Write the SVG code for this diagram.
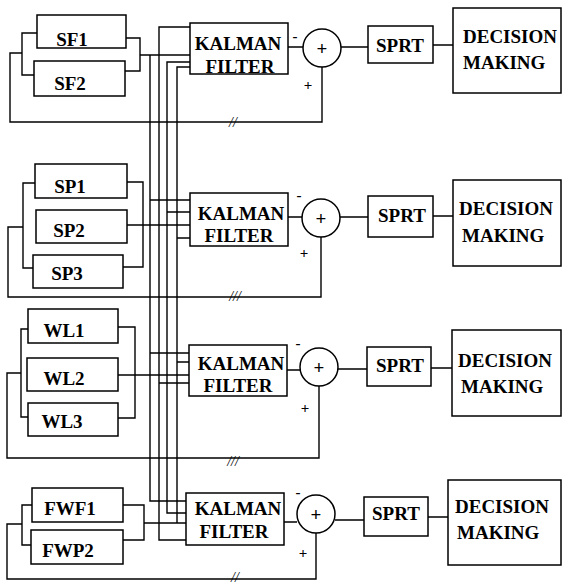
<svg xmlns="http://www.w3.org/2000/svg" width="564" height="585" viewBox="0 0 564 585">
<style>
.b{fill:none;stroke:#000;stroke-width:1.5}
.w{fill:none;stroke:#000;stroke-width:1.4}
.t{font-size:19px;font-weight:bold;fill:#000}
.c{text-anchor:middle}
.s{font-size:15px;font-weight:bold;text-anchor:middle;fill:#000}
.sl{font-size:14px;font-style:italic;text-anchor:middle;fill:#000}
</style>
<rect width="564" height="585" fill="#fff"/>
<g font-family="Liberation Serif, Times New Roman, DejaVu Serif, serif">
<g id="connectors">
  <path class="w" d="M37,33 H22 V75 H34"/>
  <path class="w" d="M126,38 H140 V71 H125"/>
  <path class="w" d="M22,53 H10 V122 H322 V67"/>
  <path class="w" d="M35,183 H23 V268 H33"/>
  <path class="w" d="M127,182 H143 V267 H123"/>
  <path class="w" d="M23,227 H8 V297 H321 V237"/>
  <path class="w" d="M28,329 H21 V417 H28"/>
  <path class="w" d="M118,327 H135 V418 H118"/>
  <path class="w" d="M21,373 H7 V458 H319 V386"/>
  <path class="w" d="M32,505 H22 V545 H31"/>
  <path class="w" d="M123,505 H144 V540 H123"/>
  <path class="w" d="M22,524 H7 V579 H316 V533"/>
  <path class="w" d="M140,55 H190"/>
  <path class="w" d="M127,225 H190"/>
  <path class="w" d="M118,375 H189"/>
  <path class="w" d="M144,523 H186"/>
  <path class="w" d="M150,55 V501 H186"/>
  <path class="w" d="M190,27 H159 V540 H186"/>
  <path class="w" d="M190,62 H167 V513 H186"/>
  <path class="w" d="M190,67 H177 V523"/>
  <path class="w" d="M150,200 H190 M167,212 H190 M177,238 H190"/>
  <path class="w" d="M150,353 H189 M177,362 H189 M159,383 H189"/>
  <path class="w" d="M288,47 H303 M341,47 H368 M433,45 H453"/>
  <path class="w" d="M288,217 H302 M340,217 H368 M433,216 H453"/>
  <path class="w" d="M287,370 H300 M338,369 H367 M431,368 H452"/>
  <path class="w" d="M284,522 H297 M335,520 H364 M428,517 H448"/>
  <text class="s" x="295" y="41">-</text>
  <text class="s" x="308" y="90">+</text>
  <text class="s" x="299" y="200">-</text>
  <text class="s" x="304" y="258">+</text>
  <text class="s" x="298" y="348">-</text>
  <text class="s" x="305" y="413">+</text>
  <text class="s" x="298" y="497">-</text>
  <text class="s" x="303" y="558">+</text>
  <text class="sl" x="233" y="127">//</text>
  <text class="sl" x="235" y="301">///</text>
  <text class="sl" x="233" y="466">///</text>
  <text class="sl" x="235" y="582">//</text>
</g>

<g id="SF1"><rect class="b" x="37" y="15" width="89" height="33"/><text class="t c" x="72" y="46">SF1</text></g>
<g id="SF2"><rect class="b" x="34" y="61" width="91" height="35"/><text class="t c" x="70" y="90">SF2</text></g>
<g id="SP1"><rect class="b" x="35" y="164" width="92" height="34"/><text class="t c" x="70" y="193">SP1</text></g>
<g id="SP2"><rect class="b" x="36" y="210" width="91" height="33"/><text class="t c" x="69" y="237">SP2</text></g>
<g id="SP3"><rect class="b" x="33" y="255" width="90" height="33"/><text class="t c" x="67" y="280">SP3</text></g>
<g id="WL1"><rect class="b" x="28" y="309" width="90" height="34"/><text class="t c" x="64" y="337">WL1</text></g>
<g id="WL2"><rect class="b" x="27" y="358" width="91" height="33"/><text class="t c" x="64" y="385">WL2</text></g>
<g id="WL3"><rect class="b" x="28" y="403" width="90" height="33"/><text class="t c" x="62" y="428">WL3</text></g>
<g id="FWF1"><rect class="b" x="32" y="488" width="91" height="34"/><text class="t c" x="70" y="515">FWF1</text></g>
<g id="FWP2"><rect class="b" x="31" y="530" width="92" height="34"/><text class="t c" x="68" y="557">FWP2</text></g>

<g id="KF1"><rect class="b" x="190" y="23" width="98" height="51"/><text class="t c" x="238" y="50">KALMAN</text><text class="t c" x="240" y="73">FILTER</text></g>
<g id="KF2"><rect class="b" x="190" y="193" width="98" height="53"/><text class="t c" x="241" y="220">KALMAN</text><text class="t c" x="239" y="242">FILTER</text></g>
<g id="KF3"><rect class="b" x="189" y="345" width="98" height="51"/><text class="t c" x="241" y="370">KALMAN</text><text class="t c" x="238" y="392">FILTER</text></g>
<g id="KF4"><rect class="b" x="186" y="493" width="98" height="52"/><text class="t c" x="238" y="515">KALMAN</text><text class="t c" x="234" y="538">FILTER</text></g>

<g id="SUM1"><circle class="b" cx="322" cy="48" r="19"/><text class="t c" x="322" y="55">+</text></g>
<g id="SUM2"><circle class="b" cx="321" cy="218" r="19"/><text class="t c" x="321" y="225">+</text></g>
<g id="SUM3"><circle class="b" cx="319" cy="367" r="19"/><text class="t c" x="319" y="374">+</text></g>
<g id="SUM4"><circle class="b" cx="316" cy="514" r="19"/><text class="t c" x="316" y="521">+</text></g>

<g id="SPRT1"><rect class="b" x="368" y="26" width="65" height="37"/><text class="t c" x="400" y="52">SPRT</text></g>
<g id="SPRT2"><rect class="b" x="368" y="196" width="65" height="41"/><text class="t c" x="402" y="222">SPRT</text></g>
<g id="SPRT3"><rect class="b" x="367" y="347" width="64" height="39"/><text class="t c" x="400" y="372">SPRT</text></g>
<g id="SPRT4"><rect class="b" x="364" y="497" width="64" height="39"/><text class="t c" x="396" y="520">SPRT</text></g>

<g id="DM1"><rect class="b" x="453" y="8" width="108" height="85"/><text class="t" x="463" y="43">DECISION</text><text class="t" x="463" y="69">MAKING</text></g>
<g id="DM2"><rect class="b" x="453" y="180" width="108" height="86"/><text class="t" x="459" y="215">DECISION</text><text class="t" x="462" y="242">MAKING</text></g>
<g id="DM3"><rect class="b" x="452" y="330" width="109" height="86"/><text class="t" x="458" y="367">DECISION</text><text class="t" x="461" y="393">MAKING</text></g>
<g id="DM4"><rect class="b" x="448" y="480" width="113" height="85"/><text class="t" x="455" y="513">DECISION</text><text class="t" x="457" y="539">MAKING</text></g>
</g>
</svg>
